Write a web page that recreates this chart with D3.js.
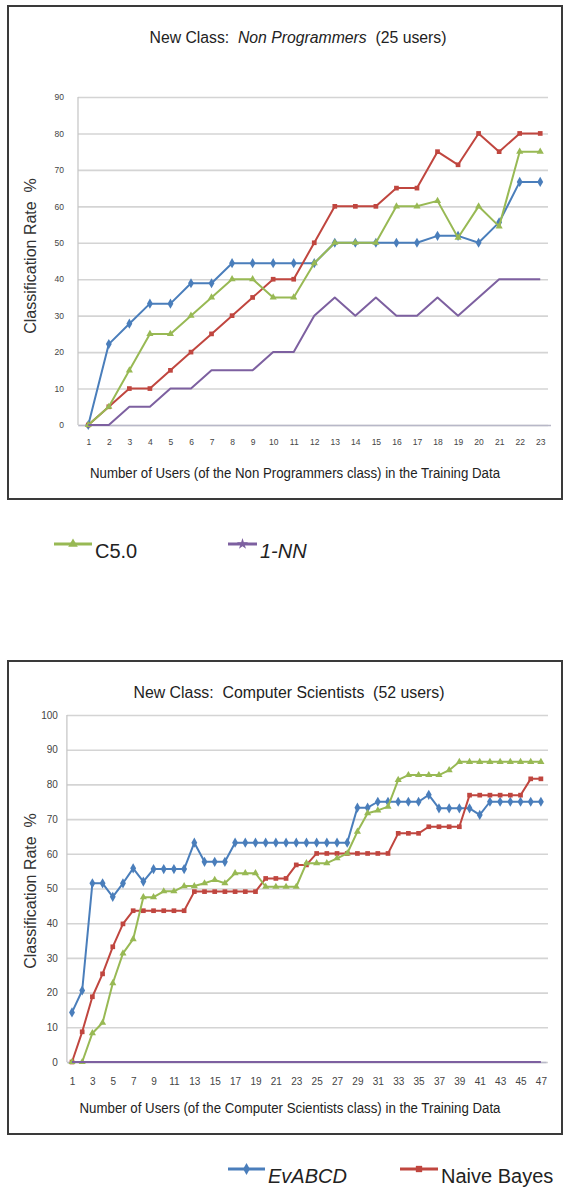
<!DOCTYPE html>
<html>
<head>
<meta charset="utf-8">
<script src="https://cdnjs.cloudflare.com/ajax/libs/d3/7.8.5/d3.min.js"></script>
<style>
  body { margin: 0; background: #fff; }
  svg { display: block; font-family: "Liberation Sans", Arial, sans-serif; }
  text { white-space: pre; }
</style>
</head>
<body>
<div id="chart"></div>
<script>
"use strict";

// Panel 1 - new class Non Programmers (x = 1..23)
var usersNP = [1, 2, 3, 4, 5, 6, 7, 8, 9, 10, 11, 12, 13, 14, 15, 16, 17, 18, 19, 20, 21, 22, 23];
var evabcdNP = [0, 22.2, 27.8, 33.3, 33.3, 38.9, 38.9, 44.4, 44.4, 44.4, 44.4, 44.4, 50, 50, 50, 50, 50, 51.9, 51.9, 50, 55.6, 66.7, 66.7];
var bayesNP  = [0, 5, 10, 10, 15, 20, 25, 30, 35, 40, 40, 50, 60, 60, 60, 65, 65, 75, 71.4, 80, 75, 80, 80];
var c50NP    = [0, 5, 15, 25, 25, 30, 35, 40, 40, 35, 35, 44.4, 50, 50, 50, 60, 60, 61.5, 51.4, 60, 54.5, 75, 75];
var nnNP     = [0, 0, 5, 5, 10, 10, 15, 15, 15, 20, 20, 30, 35, 30, 35, 30, 30, 35, 30, 35, 40, 40, 40];
var yTicksNP = [0, 10, 20, 30, 40, 50, 60, 70, 80, 90];

// Panel 2 - new class Computer Scientists (x = 1..47)
var usersCS = [1, 2, 3, 4, 5, 6, 7, 8, 9, 10, 11, 12, 13, 14, 15, 16, 17, 18, 19, 20, 21, 22, 23, 24,
               25, 26, 27, 28, 29, 30, 31, 32, 33, 34, 35, 36, 37, 38, 39, 40, 41, 42, 43, 44, 45, 46, 47];
var evabcdCS = [14.3, 20.6, 51.5, 51.5, 47.6, 51.5, 55.8, 52, 55.6, 55.6, 55.6, 55.6, 63.2, 57.7, 57.7, 57.7,
                63.2, 63.2, 63.2, 63.2, 63.2, 63.2, 63.2, 63.2, 63.2, 63.2, 63.2, 63.2,
                73.3, 73.3, 75, 75, 75, 75, 75, 77, 73.1, 73.1, 73.1, 73.1, 71.2, 75, 75, 75, 75, 75, 75];
var bayesCS  = [0, 8.7, 18.8, 25.4, 33.2, 39.8, 43.6, 43.6, 43.6, 43.6, 43.6, 43.6,
                49.1, 49.1, 49.1, 49.1, 49.1, 49.1, 49.1, 52.9, 52.9, 52.9, 56.8, 56.8,
                60.1, 60.1, 60.1, 60.1, 60.1, 60.1, 60.1, 60.1, 65.9, 65.9, 65.9,
                67.8, 67.8, 67.8, 67.8, 76.9, 76.9, 76.9, 76.9, 76.9, 76.9, 81.6, 81.6];
var c50CS    = [0, 0, 8.3, 11.3, 22.7, 31.3, 35.4, 47.5, 47.5, 49.2, 49.2, 50.7, 50.7, 51.5, 52.5, 51.5,
                54.4, 54.4, 54.4, 50.5, 50.5, 50.5, 50.5, 57.3, 57.3, 57.3, 58.7, 60.1,
                66.4, 71.7, 72.5, 73.6, 81.3, 82.7, 82.7, 82.7, 82.7, 84.1,
                86.5, 86.5, 86.5, 86.5, 86.5, 86.5, 86.5, 86.5, 86.5];
var nnCS     = [0, 0, 0, 0, 0, 0, 0, 0, 0, 0, 0, 0, 0, 0, 0, 0, 0, 0, 0, 0, 0, 0, 0, 0,
                0, 0, 0, 0, 0, 0, 0, 0, 0, 0, 0, 0, 0, 0, 0, 0, 0, 0, 0, 0, 0, 0, 0];
var yTicksCS = [0, 10, 20, 30, 40, 50, 60, 70, 80, 90, 100];

var colEv = "#4a7ebb", colNb = "#c0463f", colC5 = "#98b954", colNN = "#7d60a0";

var svg = d3.select("#chart")
            .append("svg")
            .attr("width", 564)
            .attr("height", 1193);

// one bordered chart box with grid, axes and the four series
var drawPanel = function(p) {
  var g = svg.append("g");

  g.append("rect")
   .attr("x", p.box[0]).attr("y", p.box[1])
   .attr("width", p.box[2]).attr("height", p.box[3])
   .attr("fill", "#fff")
   .attr("stroke", "#3a3a3a")
   .attr("stroke-width", 2);

  var xScale = d3.scalePoint()
                 .domain(p.users)
                 .range([p.left, p.right])
                 .padding(0.5);
  var yScale = d3.scaleLinear()
                 .domain([0, p.yMax])
                 .range([p.bottom, p.top]);

  // gridlines + y labels
  var yAxis = d3.axisLeft(yScale)
                .tickValues(p.yTicks)
                .tickSize(-(p.gridRight - p.left))
                .tickPadding(p.yPad);
  g.append("g")
   .attr("transform", "translate(" + p.left + ",0)")
   .call(yAxis)
   .call(function(a) {
     a.select(".domain").remove();
     a.selectAll("line").attr("stroke", "#d4d4d4").attr("stroke-width", 1.6);
     a.selectAll("text").attr("fill", "#444").style("font-size", p.tickFont + "px");
   });

  // y axis line
  g.append("line")
   .attr("x1", p.left).attr("x2", p.left)
   .attr("y1", p.top).attr("y2", p.bottom)
   .attr("stroke", "#c4c4c4").attr("stroke-width", 1.2);

  // x labels
  var xAxis = d3.axisBottom(xScale)
                .tickValues(p.users.filter(function(d, i) { return i % p.every === 0; }))
                .tickSize(0)
                .tickPadding(p.xPad);
  g.append("g")
   .attr("transform", "translate(0," + p.bottom + ")")
   .call(xAxis)
   .call(function(a) {
     a.select(".domain").attr("stroke", "#b8b8c8").attr("stroke-width", 1.5);
     a.selectAll("text").attr("fill", "#444").style("font-size", p.tickFont + "px");
   });

  // series
  var series = [
    { vals: p.ev, color: colEv, sym: d3.symbolDiamond, size: 30 },
    { vals: p.nb, color: colNb, sym: d3.symbolSquare, size: 22 },
    { vals: p.c5, color: colC5, sym: d3.symbolTriangle, size: 22 },
    { vals: p.nn, color: colNN, sym: null }
  ];
  var line = d3.line()
               .x(function(d) { return xScale(d[0]); })
               .y(function(d) { return yScale(d[1]); });

  series.forEach(function(s) {
    var pts = p.users.map(function(u, i) { return [u, s.vals[i]]; });
    g.append("path")
     .attr("d", line(pts))
     .attr("fill", "none")
     .attr("stroke", s.color)
     .attr("stroke-width", 2)
     .attr("stroke-linejoin", "round");
    if (s.sym) {
      g.selectAll(null)
       .data(pts)
       .enter()
       .append("path")
       .attr("transform", function(d) { return "translate(" + xScale(d[0]) + "," + yScale(d[1]) + ")"; })
       .attr("d", d3.symbol().type(s.sym).size(s.size))
       .attr("fill", s.color);
    }
  });

  // titles
  var title = g.append("text")
   .attr("x", p.titleX).attr("y", p.titleY)
   .attr("text-anchor", "middle")
   .attr("textLength", p.titleW).attr("lengthAdjust", "spacingAndGlyphs")
   .attr("fill", "#222")
   .style("font-size", "16px");
  title.append("tspan").text("New Class:  ");
  title.append("tspan").style("font-style", p.italicName ? "italic" : "normal").text(p.name);
  title.append("tspan").text("  (" + p.count + " users)");

  g.append("text")
   .attr("x", p.xTitleX).attr("y", p.xTitleY)
   .attr("text-anchor", "middle")
   .attr("textLength", p.xTitleW).attr("lengthAdjust", "spacingAndGlyphs")
   .attr("fill", "#222")
   .style("font-size", "14px")
   .text("Number of Users (of the " + p.name + " class) in the Training Data");

  g.append("text")
   .attr("transform", "translate(" + p.yTitleX + "," + p.yTitleY + ") rotate(-90)")
   .attr("text-anchor", "middle")
   .attr("fill", "#333")
   .style("font-size", "16px")
   .text("Classification Rate  %");
};

drawPanel({
  box: [8, 6, 554, 493],
  users: usersNP, ev: evabcdNP, nb: bayesNP, c5: c50NP, nn: nnNP,
  yMax: 90, yTicks: yTicksNP,
  left: 78, right: 550.5, gridRight: 548, top: 97, bottom: 425,
  every: 1, tickFont: 8.5, xPad: 14, yPad: 14,
  name: "Non Programmers", italicName: true, count: 25,
  titleX: 298, titleY: 43, titleW: 297,
  xTitleX: 295, xTitleY: 478, xTitleW: 410,
  yTitleX: 36, yTitleY: 256
});

drawPanel({
  box: [8, 661, 554, 473],
  users: usersCS, ev: evabcdCS, nb: bayesCS, c5: c50CS, nn: nnCS,
  yMax: 100, yTicks: yTicksCS,
  left: 66.9, right: 546, gridRight: 548, top: 715, bottom: 1062,
  every: 2, tickFont: 10, xPad: 16, yPad: 9,
  name: "Computer Scientists", italicName: false, count: 52,
  titleX: 289, titleY: 698, titleW: 311,
  xTitleX: 290, xTitleY: 1113, xTitleW: 421,
  yTitleX: 36, yTitleY: 891
});

// legends
var legend = [
  { x: 54, y: 544, w: 38, color: colC5, sym: d3.symbolTriangle, label: "C5.0", italic: false },
  { x: 228, y: 544, w: 29, color: colNN, sym: d3.symbolStar, label: "1-NN", italic: true },
  { x: 228, y: 1169, w: 37, color: colEv, sym: d3.symbolDiamond, label: "EvABCD", italic: true },
  { x: 400, y: 1169, w: 38, color: colNb, sym: d3.symbolSquare, label: "Naive Bayes", italic: false }
];
legend.forEach(function(l) {
  svg.append("line")
     .attr("x1", l.x).attr("x2", l.x + l.w)
     .attr("y1", l.y).attr("y2", l.y)
     .attr("stroke", l.color).attr("stroke-width", 3);
  svg.append("path")
     .attr("transform", "translate(" + (l.x + l.w / 2) + "," + l.y + ")")
     .attr("d", d3.symbol().type(l.sym).size(40))
     .attr("fill", l.color);
  svg.append("text")
     .attr("x", l.x + l.w + 3).attr("y", l.y + 14)
     .attr("fill", "#222")
     .style("font-size", "20px")
     .style("font-style", l.italic ? "italic" : "normal")
     .text(l.label);
});
</script>
</body>
</html>
